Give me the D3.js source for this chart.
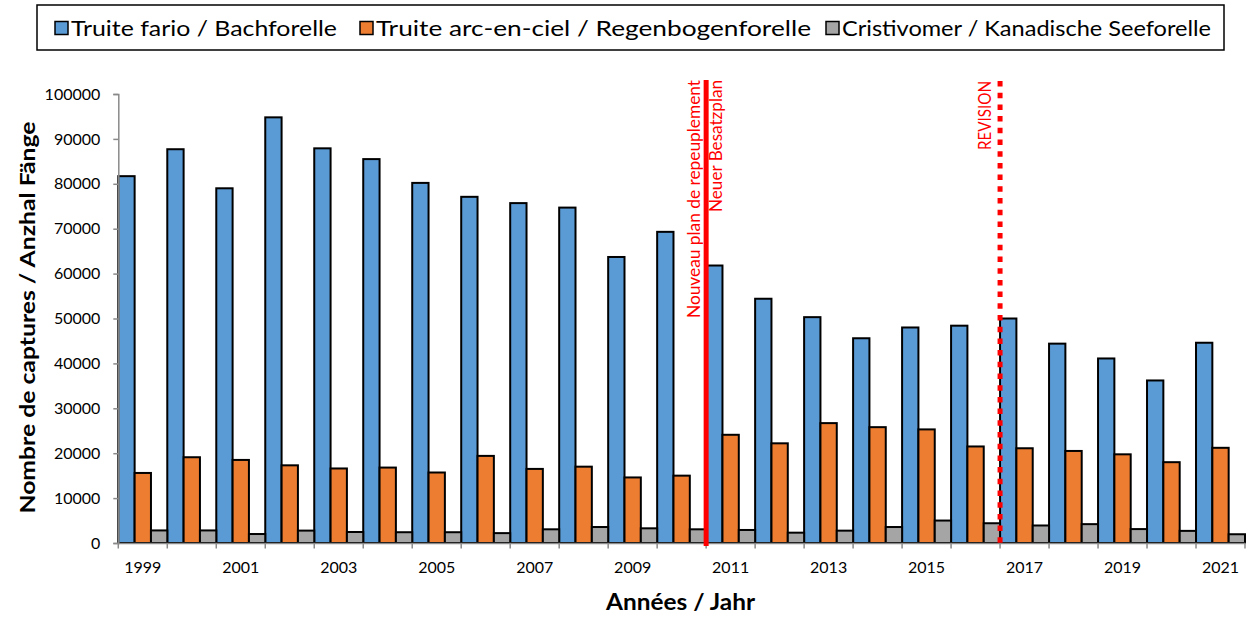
<!DOCTYPE html>
<html>
<head>
<meta charset="utf-8">
<script src="https://cdn.jsdelivr.net/npm/d3@7"></script>
<style>
  html, body { margin: 0; padding: 0; background: #fff; }
  svg { display: block; }
  text { font-family: Lato, "Open Sans", sans-serif; }
</style>
</head>
<body>
<script>
// ---------- data ----------
const years = [1999,2000,2001,2002,2003,2004,2005,2006,2007,2008,2009,2010,2011,2012,2013,2014,2015,2016,2017,2018,2019,2020,2021];
const fario = [81700,87700,79000,94800,87900,85500,80200,77100,75700,74700,63700,69300,61800,54400,50300,45600,48000,48400,50000,44400,41100,36200,44600];
const arcEnCiel = [15600,19100,18500,17300,16600,16800,15700,19400,16500,17000,14600,15000,24100,22200,26700,25800,25300,21500,21100,20500,19750,18000,21200];
const cristivomer = [2800,2800,2000,2760,2450,2400,2400,2200,3050,3560,3270,3050,2900,2300,2750,3560,5000,4400,3900,4200,3100,2700,1950];
const seriesNames = ["Truite fario / Bachforelle", "Truite arc-en-ciel / Regenbogenforelle", "Cristivomer / Kanadische Seeforelle"];
const seriesColors = ["#5B9BD5", "#ED7D31", "#A5A5A5"];
const yTicks = [0,10000,20000,30000,40000,50000,60000,70000,80000,90000,100000];
const xTickLabels = [1999,2001,2003,2005,2007,2009,2011,2013,2015,2017,2019,2021];
const eventYears = [2011, 2017];
const eventLabels = [["Nouveau plan de repeuplement", "Neuer Besatzplan"], ["REVISION"]];
const yTitle = "Nombre de captures / Anzhal Fänge";
const xTitle = "Années / Jahr";

// ---------- layout ----------
const W = 1257, H = 617;
const pLeft = 118.3, pRight = 1245, pTop = 94, pBottom = 543;

const svg = d3.select("body").append("svg").attr("width", W).attr("height", H);

const x = d3.scaleBand().domain(years).range([pLeft, pRight]).padding(0);
const xs = d3.scaleBand().domain([0,1,2]).range([0, x.bandwidth()]).padding(0);
const y = d3.scaleLinear().domain([0, 100000]).range([pBottom, pTop]);

const seriesData = [fario, arcEnCiel, cristivomer];

// bars
seriesData.forEach((vals, si) => {
  svg.append("g").selectAll("rect").data(vals).join("rect")
    .attr("x", (d, i) => x(years[i]) + xs(si))
    .attr("y", d => y(d))
    .attr("width", xs.bandwidth())
    .attr("height", d => y(0) - y(d))
    .attr("fill", seriesColors[si])
    .attr("stroke", "#000")
    .attr("stroke-width", 2);
});

const axisColor = "#8a8a8a";

// y axis
const yAxis = svg.append("g").attr("transform", `translate(${pLeft},0)`)
  .call(d3.axisLeft(y).tickValues(yTicks).tickSize(5).tickPadding(13).tickFormat(d3.format("d")));
yAxis.select(".domain").attr("stroke", axisColor).attr("stroke-width", 1.5);
yAxis.selectAll(".tick line").attr("stroke", axisColor).attr("stroke-width", 1.5);
yAxis.selectAll(".tick text").attr("font-size", 16).attr("fill", "#000")
  .style("font-family", "Lato, sans-serif");

// x axis: line + boundary ticks
const xAxis = svg.append("g").attr("transform", `translate(0,${pBottom})`)
  .call(d3.axisBottom(x).tickValues(xTickLabels).tickSize(0).tickPadding(0));
xAxis.select(".domain").attr("stroke", axisColor).attr("stroke-width", 1.5);
xAxis.selectAll(".tick text").attr("font-size", 16).attr("fill", "#000")
  .attr("dy", null).attr("y", 30)
  .style("font-family", "Lato, sans-serif");
const boundaries = years.map(yr => x(yr)).concat([x.range()[1]]);
svg.append("g").selectAll("line").data(boundaries).join("line")
  .attr("x1", d => d).attr("x2", d => d)
  .attr("y1", pBottom).attr("y2", pBottom + 5.5)
  .attr("stroke", axisColor).attr("stroke-width", 1.5);

// event lines
const lineTop = 80, lineBottom = 546;
eventYears.forEach((yr, i) => {
  const ln = svg.append("line")
    .attr("x1", x(yr)).attr("x2", x(yr))
    .attr("y1", i === 0 ? lineTop : lineTop + 1).attr("y2", lineBottom)
    .attr("stroke", "#FF0000").attr("stroke-width", 5);
  if (i === 1) ln.attr("stroke-dasharray", "5.5,6.2").attr("y2", lineBottom - 1);
});

// event labels
function vlabel(xb, yEnd, txt, len) {
  svg.append("text")
    .attr("transform", `translate(${xb},${yEnd}) rotate(-90)`)
    .attr("text-anchor", "end")
    .attr("font-size", 17.5)
    .attr("fill", "#FF0000")
    .attr("textLength", len)
    .attr("lengthAdjust", "spacingAndGlyphs")
    .text(txt);
}
vlabel(x(eventYears[0]) - 6.4, 80, eventLabels[0][0], 238);
vlabel(x(eventYears[0]) + 16, 80, eventLabels[0][1], 132);
vlabel(x(eventYears[1]) - 9.3, 81, eventLabels[1][0], 69);

// axis titles
svg.append("text")
  .attr("transform", `translate(35,317.5) rotate(-90)`)
  .attr("text-anchor", "middle")
  .attr("font-size", 21).attr("font-weight", "bold")
  .attr("textLength", 392).attr("lengthAdjust", "spacingAndGlyphs")
  .text(yTitle);
svg.append("text")
  .attr("x", 680.5).attr("y", 610)
  .attr("text-anchor", "middle")
  .attr("font-size", 22).attr("font-weight", "bold")
  .attr("textLength", 149).attr("lengthAdjust", "spacingAndGlyphs")
  .text(xTitle);

// legend
svg.append("rect").attr("x", 37).attr("y", 5).attr("width", 1187).attr("height", 45)
  .attr("fill", "#fff").attr("stroke", "#000").attr("stroke-width", 1.5);
const legSquares = [55, 360, 826];
const legTextX = [71, 376, 842];
const legTextW = [266, 435, 369];
seriesNames.forEach((name, i) => {
  svg.append("rect").attr("x", legSquares[i]).attr("y", 21.5).attr("width", 13).attr("height", 13)
    .attr("fill", seriesColors[i]).attr("stroke", "#000").attr("stroke-width", 1.5);
  svg.append("text").attr("x", legTextX[i]).attr("y", 36)
    .attr("font-size", 21)
    .attr("textLength", legTextW[i]).attr("lengthAdjust", "spacingAndGlyphs")
    .text(name);
});
</script>
</body>
</html>
